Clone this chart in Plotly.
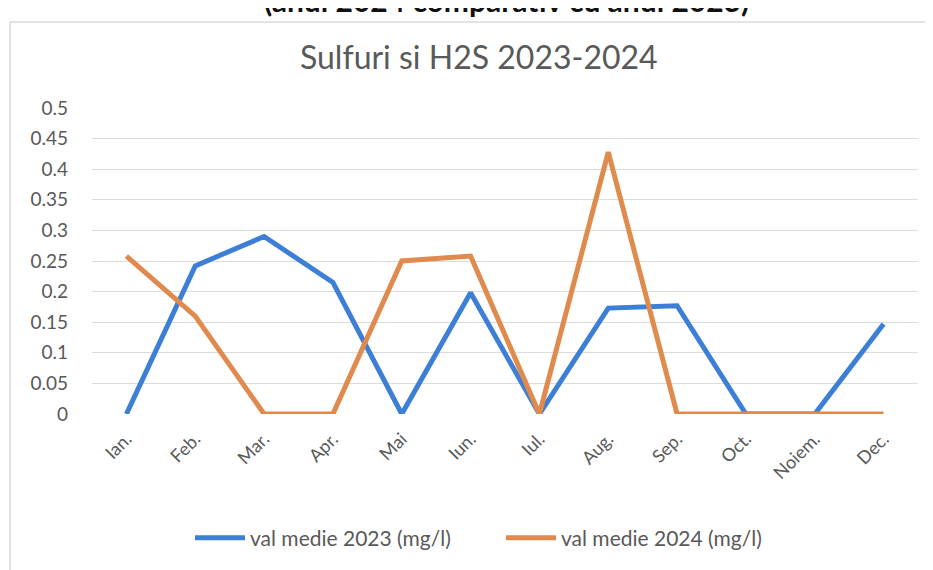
import plotly.graph_objects as go

months = ["Ian.", "Feb.", "Mar.", "Apr.", "Mai", "Iun.", "Iul.", "Aug.", "Sep.", "Oct.", "Noiem.", "Dec."]
val_2023 = [0, 0.242, 0.29, 0.215, 0, 0.198, 0, 0.173, 0.177, 0, 0, 0.147]
val_2024 = [0.258, 0.16, 0, 0, 0.25, 0.258, 0, 0.428, 0, 0, 0, 0]
name_2023 = "val medie 2023 (mg/l)"
name_2024 = "val medie 2024 (mg/l)"
y_ticks = [0, 0.05, 0.1, 0.15, 0.2, 0.25, 0.3, 0.35, 0.4, 0.45, 0.5]
y_tick_text = ["0", "0.05", "0.1", "0.15", "0.2", "0.25", "0.3", "0.35", "0.4", "0.45", "0.5"]

FONT = "Lato, 'Open Sans', sans-serif"
GRAY = "#595959"

W, H = 925, 562
L, R, T, B = 84, 15, 100, 156
PW, PH = W - L - R, H - T - B


def px_x(px):
    return (px - L) / PW


def px_y(py):
    return (H - B - py) / PH


fig = go.Figure()
fig.add_trace(go.Scatter(x=months, y=val_2023, mode="lines", name=name_2023,
                         line=dict(color="#3d7fd6", width=5)))
fig.add_trace(go.Scatter(x=months, y=val_2024, mode="lines", name=name_2024,
                         line=dict(color="#e08a4e", width=5)))

fig.update_layout(
    width=W, height=H,
    margin=dict(l=L, r=R, t=T, b=B),
    paper_bgcolor="white", plot_bgcolor="white",
    font=dict(family=FONT, color=GRAY, size=18),
    title=dict(text="Sulfuri si H2S 2023-2024", x=0.509, xanchor="center",
               y=1 - 50 / H, yanchor="middle",
               font=dict(family=FONT, size=32, color=GRAY)),
    showlegend=True,
    legend=dict(orientation="h", x=px_x(182), xanchor="left", y=px_y(530), yanchor="middle",
                font=dict(family=FONT, size=21, color=GRAY), itemwidth=50,
                entrywidth=246, bgcolor="rgba(0,0,0,0)"),
)
fig.update_xaxes(type="category", range=[-0.5, 11.5], showgrid=False, showline=False,
                 zeroline=False, tickangle=-45, ticks="", tickfont=dict(size=18, color=GRAY),
                 ticklabelstandoff=10, fixedrange=True)
fig.update_yaxes(range=[0, 0.5], tickvals=y_ticks, ticktext=y_tick_text,
                 showgrid=True, gridcolor="#dcdcdc", gridwidth=1, zeroline=False,
                 showline=False, ticks="", ticklabelstandoff=23,
                 tickfont=dict(size=19, color=GRAY), fixedrange=True)

# chart frame (scan border)
fig.add_shape(type="rect", xref="paper", yref="paper",
              x0=px_x(2), x1=px_x(W + 10),
              y0=px_y(H + 10), y1=px_y(14),
              line=dict(color="#c8c8c8", width=1), layer="below")

# cut-off document heading above chart
fig.add_annotation(text="<b>(anul 2024 comparativ cu anul 2023)</b>", xref="paper", yref="paper",
                   x=px_x(498), y=px_y(12), xanchor="center", yanchor="bottom",
                   showarrow=False, font=dict(family=FONT, size=30, color="#111111"))

fig.write_html("out.html")
